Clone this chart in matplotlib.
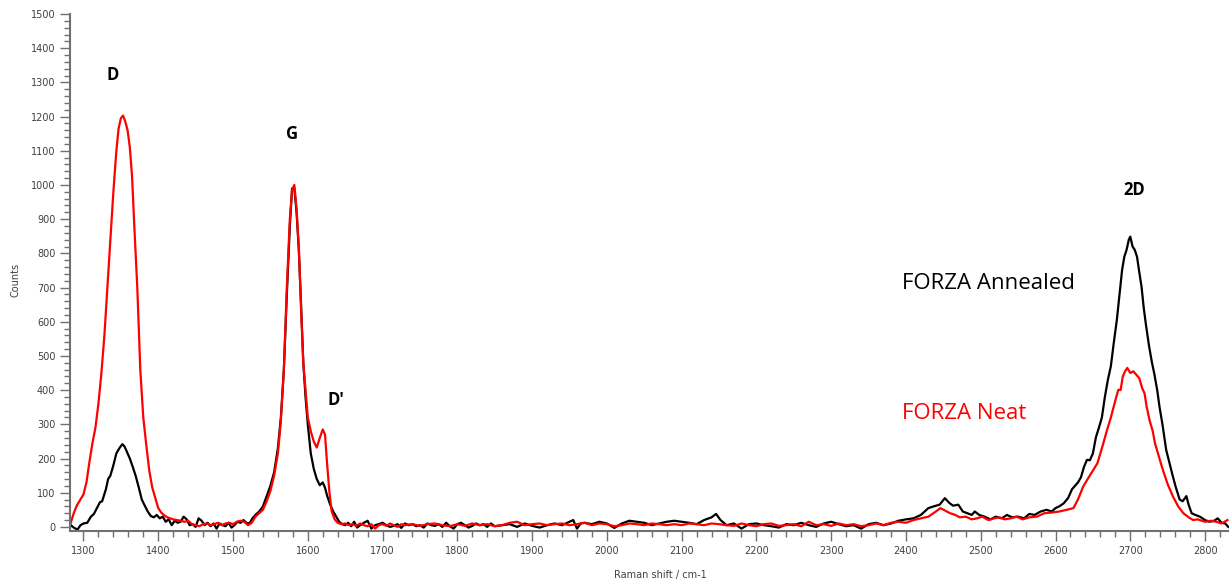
import numpy as np
import matplotlib
matplotlib.use('Agg')
import matplotlib.pyplot as plt
from matplotlib.ticker import MultipleLocator

# FORZA Annealed (black)
annealed_x = [1283, 1287, 1292, 1296, 1300, 1305, 1310, 1314, 1318, 1322, 1325, 1330, 1333, 1336, 1340, 1344, 1348, 1352, 1355, 1358,
              1362, 1366, 1370, 1374, 1378, 1382, 1386, 1390, 1394, 1398, 1402, 1406, 1410, 1414, 1418, 1422, 1426, 1430, 1434, 1438,
              1442, 1446, 1450, 1454, 1458, 1462, 1466, 1470, 1474, 1478, 1482, 1486, 1490, 1494, 1498, 1502, 1506, 1510, 1514, 1518,
              1522, 1526, 1530, 1535, 1540, 1545, 1550, 1555, 1560, 1564, 1568, 1572, 1576, 1579, 1582, 1585, 1588, 1591, 1594, 1597,
              1600, 1604, 1608, 1612, 1616, 1620, 1623, 1626, 1630, 1634, 1638, 1642, 1646, 1650, 1654, 1658, 1662, 1666, 1670, 1675,
              1680, 1685, 1690, 1695, 1700, 1705, 1710, 1715, 1720, 1725, 1730, 1735, 1740, 1745, 1750, 1755, 1760, 1765, 1770, 1775,
              1780, 1785, 1790, 1795, 1800, 1805, 1810, 1815, 1820, 1825, 1830, 1835, 1840, 1845, 1850, 1860, 1870, 1880, 1890, 1900,
              1910, 1920, 1930, 1940, 1950, 1955, 1960, 1965, 1970, 1980, 1990, 2000, 2010, 2020, 2030, 2040, 2050, 2060, 2070, 2080,
              2090, 2100, 2110, 2120, 2130, 2140, 2146, 2152, 2160, 2170, 2180, 2190, 2200, 2210, 2220, 2230, 2240, 2250, 2260, 2270,
              2280, 2290, 2300, 2310, 2320, 2330, 2340, 2350, 2360, 2370, 2380, 2390, 2400, 2410, 2420, 2430, 2437, 2445, 2452, 2458,
              2463, 2470, 2476, 2482, 2488, 2492, 2498, 2505, 2513, 2520, 2528, 2535, 2542, 2550, 2558, 2565, 2572, 2580, 2588, 2595,
              2600, 2605, 2611, 2617, 2622, 2626, 2630, 2634, 2638, 2642, 2646, 2650, 2654, 2658, 2662, 2666, 2670, 2674, 2678, 2682,
              2686, 2689, 2692, 2695, 2698, 2700, 2703, 2706, 2709, 2712, 2715, 2718, 2721, 2725, 2729, 2732, 2736, 2739, 2743, 2748,
              2752, 2757, 2761, 2766, 2770, 2775, 2778, 2782, 2787, 2793, 2800, 2806, 2812, 2817, 2822, 2827, 2831]
annealed_y = [5, -2, -8, 5, 10, 12, 30, 38, 55, 72, 75, 110, 140, 150, 180, 215, 230, 242, 235, 220,
              200, 175, 148, 115, 80, 62, 45, 32, 28, 35, 25, 30, 15, 22, 5, 18, 12, 15, 30, 22,
              5, 8, 0, 25, 18, 5, 12, 2, 10, -5, 10, 5, 2, 12, -2, 5, 15, 12, 20, 12,
              10, 25, 35, 45, 60, 90, 120, 160, 230, 320, 460, 680, 880, 990, 990, 920, 810, 650, 480, 380,
              300, 215, 170, 140, 122, 130, 115, 90, 65, 45, 30, 15, 8, 5, 12, 2, 15, -2, 5, 12,
              18, -5, 5, 8, 12, 5, 0, 3, 8, -3, 10, 5, 8, 2, 5, -2, 10, 5, 3, 8,
              0, 12, 2, -5, 8, 12, 5, -2, 3, 10, 5, 8, 0, 10, 2, 5, 8, 0, 10, 3,
              -2, 5, 10, 5, 15, 20, -5, 10, 12, 8, 15, 10, -3, 10, 18, 15, 12, 5, 10, 15,
              18, 15, 12, 8, 20, 28, 38, 20, 5, 10, -5, 8, 10, 5, 2, -2, 8, 5, 12, 5,
              0, 10, 15, 8, 2, 5, -5, 8, 12, 5, 10, 18, 22, 25, 35, 55, 60, 65, 84, 70,
              62, 65, 45, 40, 35, 45, 35, 30, 22, 30, 25, 35, 28, 30, 25, 38, 35, 45, 50, 45,
              55, 60, 69, 85, 110, 120, 130, 145, 175, 196, 195, 215, 262, 290, 320, 380, 430, 470, 540, 605,
              690, 751, 790, 810, 840, 849, 820, 810, 790, 745, 703, 640, 590, 530, 480, 449, 400, 352, 300, 225,
              190, 147, 115, 80, 75, 90, 65, 40, 35, 30, 20, 15, 18, 25, 12, 10, 0]

# FORZA Neat (red)
neat_x = [1283, 1287, 1291, 1296, 1300, 1304, 1308, 1312, 1316, 1320, 1324, 1328, 1332, 1336, 1340, 1344, 1347, 1350, 1353, 1356,
          1359, 1362, 1365, 1368, 1372, 1376, 1380, 1384, 1388, 1392, 1396, 1400, 1404, 1408, 1412, 1416, 1420, 1425, 1430, 1435,
          1440, 1445, 1450, 1455, 1460, 1465, 1470, 1475, 1480, 1485, 1490, 1495, 1500, 1505, 1510, 1515, 1520, 1525, 1530, 1535,
          1540, 1545, 1550, 1555, 1560, 1564, 1568, 1572, 1576, 1579, 1582, 1585, 1588, 1591, 1594, 1597, 1600, 1604, 1608, 1612,
          1616, 1620, 1623, 1626, 1629, 1632, 1636, 1640, 1645, 1650, 1655, 1660, 1665, 1670, 1675, 1680, 1685, 1690, 1695, 1700,
          1705, 1710, 1715, 1720, 1725, 1730, 1740, 1750, 1760, 1770, 1780, 1790, 1800, 1810, 1820, 1830, 1840, 1850, 1860, 1870,
          1880, 1890, 1900, 1910, 1920, 1930, 1940, 1950, 1960, 1970, 1980, 1990, 2000, 2010, 2020, 2030, 2040, 2050, 2060, 2070,
          2080, 2090, 2100, 2110, 2120, 2130, 2140, 2150, 2160, 2170, 2180, 2190, 2200, 2210, 2220, 2230, 2240, 2250, 2260, 2270,
          2280, 2290, 2300, 2310, 2320, 2330, 2340, 2350, 2360, 2370, 2380, 2390, 2400, 2410, 2420, 2430, 2440, 2446, 2452, 2459,
          2466, 2472, 2480, 2488, 2495, 2502, 2510, 2518, 2525, 2532, 2540, 2548, 2556, 2565, 2575, 2585, 2595, 2605, 2615, 2624,
          2630, 2637, 2643, 2650, 2656, 2662, 2669, 2674, 2680, 2684, 2687, 2690, 2693, 2696, 2700, 2704, 2708, 2712, 2716, 2719,
          2722, 2726, 2730, 2733, 2737, 2741, 2745, 2750, 2757, 2764, 2771, 2778, 2784, 2790, 2800, 2808, 2815, 2822, 2830]
neat_y = [12, 40, 62, 80, 95, 130, 190, 245, 290, 360, 450, 560, 700, 840, 980, 1100, 1165, 1195, 1203, 1185,
          1160, 1110, 1025, 880, 700, 460, 320, 240, 165, 115, 85, 55, 42, 34, 28, 25, 22, 20, 18, 15,
          18, 8, 5, 2, 8, 10, 5, 8, 12, 5, 10, 12, 8, 15, 18, 15, 5, 12, 30, 40,
          50, 75, 105, 150, 215, 310, 460, 700, 900, 985, 1000, 930, 820, 640, 480, 400, 320, 280, 250, 232,
          260, 285, 270, 180, 100, 45, 22, 12, 8, 10, 5, 8, 3, 10, 5, 2, 8, -5, 5, 8,
          3, 10, 5, 0, 8, 5, 8, 3, 8, 10, 5, 2, 8, 3, 10, 5, 8, 2, 5, 12,
          15, 5, 8, 10, 5, 8, 10, 5, 8, 12, 5, 10, 8, 2, 5, 10, 8, 5, 10, 8,
          5, 8, 5, 10, 8, 5, 10, 8, 5, 3, 10, 5, 2, 8, 10, 3, 5, 8, 2, 15,
          5, 8, 3, 10, 5, 8, 2, 5, 10, 5, 12, 15, 12, 20, 25, 30, 45, 55, 48, 40,
          35, 28, 30, 22, 25, 30, 20, 25, 28, 22, 25, 30, 22, 28, 30, 40, 42, 45, 50, 55,
          80, 118, 140, 165, 186, 230, 284, 320, 370, 401, 400, 440, 455, 465, 450, 455, 445, 435, 405, 391,
          350, 310, 280, 245, 215, 185, 157, 125, 89, 60, 40, 28, 20, 22, 15, 18, 15, 10, 20]

peak_labels = ['D', 'G', "D'", '2D']
peak_pos = [(1339, 1322), (1579, 1149), (1637, 371), (2705, 985)]

fig = plt.figure(figsize=(12.29, 5.84), dpi=100)
ax = fig.add_axes([70 / 1229, 53 / 584, 1 - 70 / 1229, 517 / 584])

ax.plot(annealed_x, annealed_y, color='black', lw=1.6)
ax.plot(neat_x, neat_y, color='red', lw=1.6)

ax.set_xlim(1282, 2832)
ax.set_ylim(-12, 1500)

ax.xaxis.set_major_locator(MultipleLocator(100))
ax.xaxis.set_minor_locator(MultipleLocator(20))
ax.yaxis.set_major_locator(MultipleLocator(100))
ax.yaxis.set_minor_locator(MultipleLocator(20))

for s in ['top', 'right']:
    ax.spines[s].set_visible(False)
for s in ['left', 'bottom']:
    ax.spines[s].set_color('#707070')
    ax.spines[s].set_linewidth(1.5)
ax.tick_params(which='major', length=7, width=1, color='#707070', labelsize=7, labelcolor='#404040')
ax.tick_params(which='minor', length=4, width=1, color='#707070')

ax.set_xlabel('Raman shift / cm-1', fontsize=7, color='#404040')
ax.set_ylabel('Counts', fontsize=7, color='#404040')
ax.xaxis.set_label_coords(0.509, -0.075)
ax.yaxis.set_label_coords(-0.043, 0.486)

for lab, (px, py) in zip(peak_labels, peak_pos):
    ax.text(px, py, lab, fontsize=12, fontweight='bold', family='Open Sans', ha='center', va='center')

ax.text(2395, 713, 'FORZA Annealed', fontsize=16, family='Open Sans', color='black', va='center')
ax.text(2395, 333, 'FORZA Neat', fontsize=16, family='Open Sans', color='red', va='center')

fig.savefig('out.png', dpi=100)
